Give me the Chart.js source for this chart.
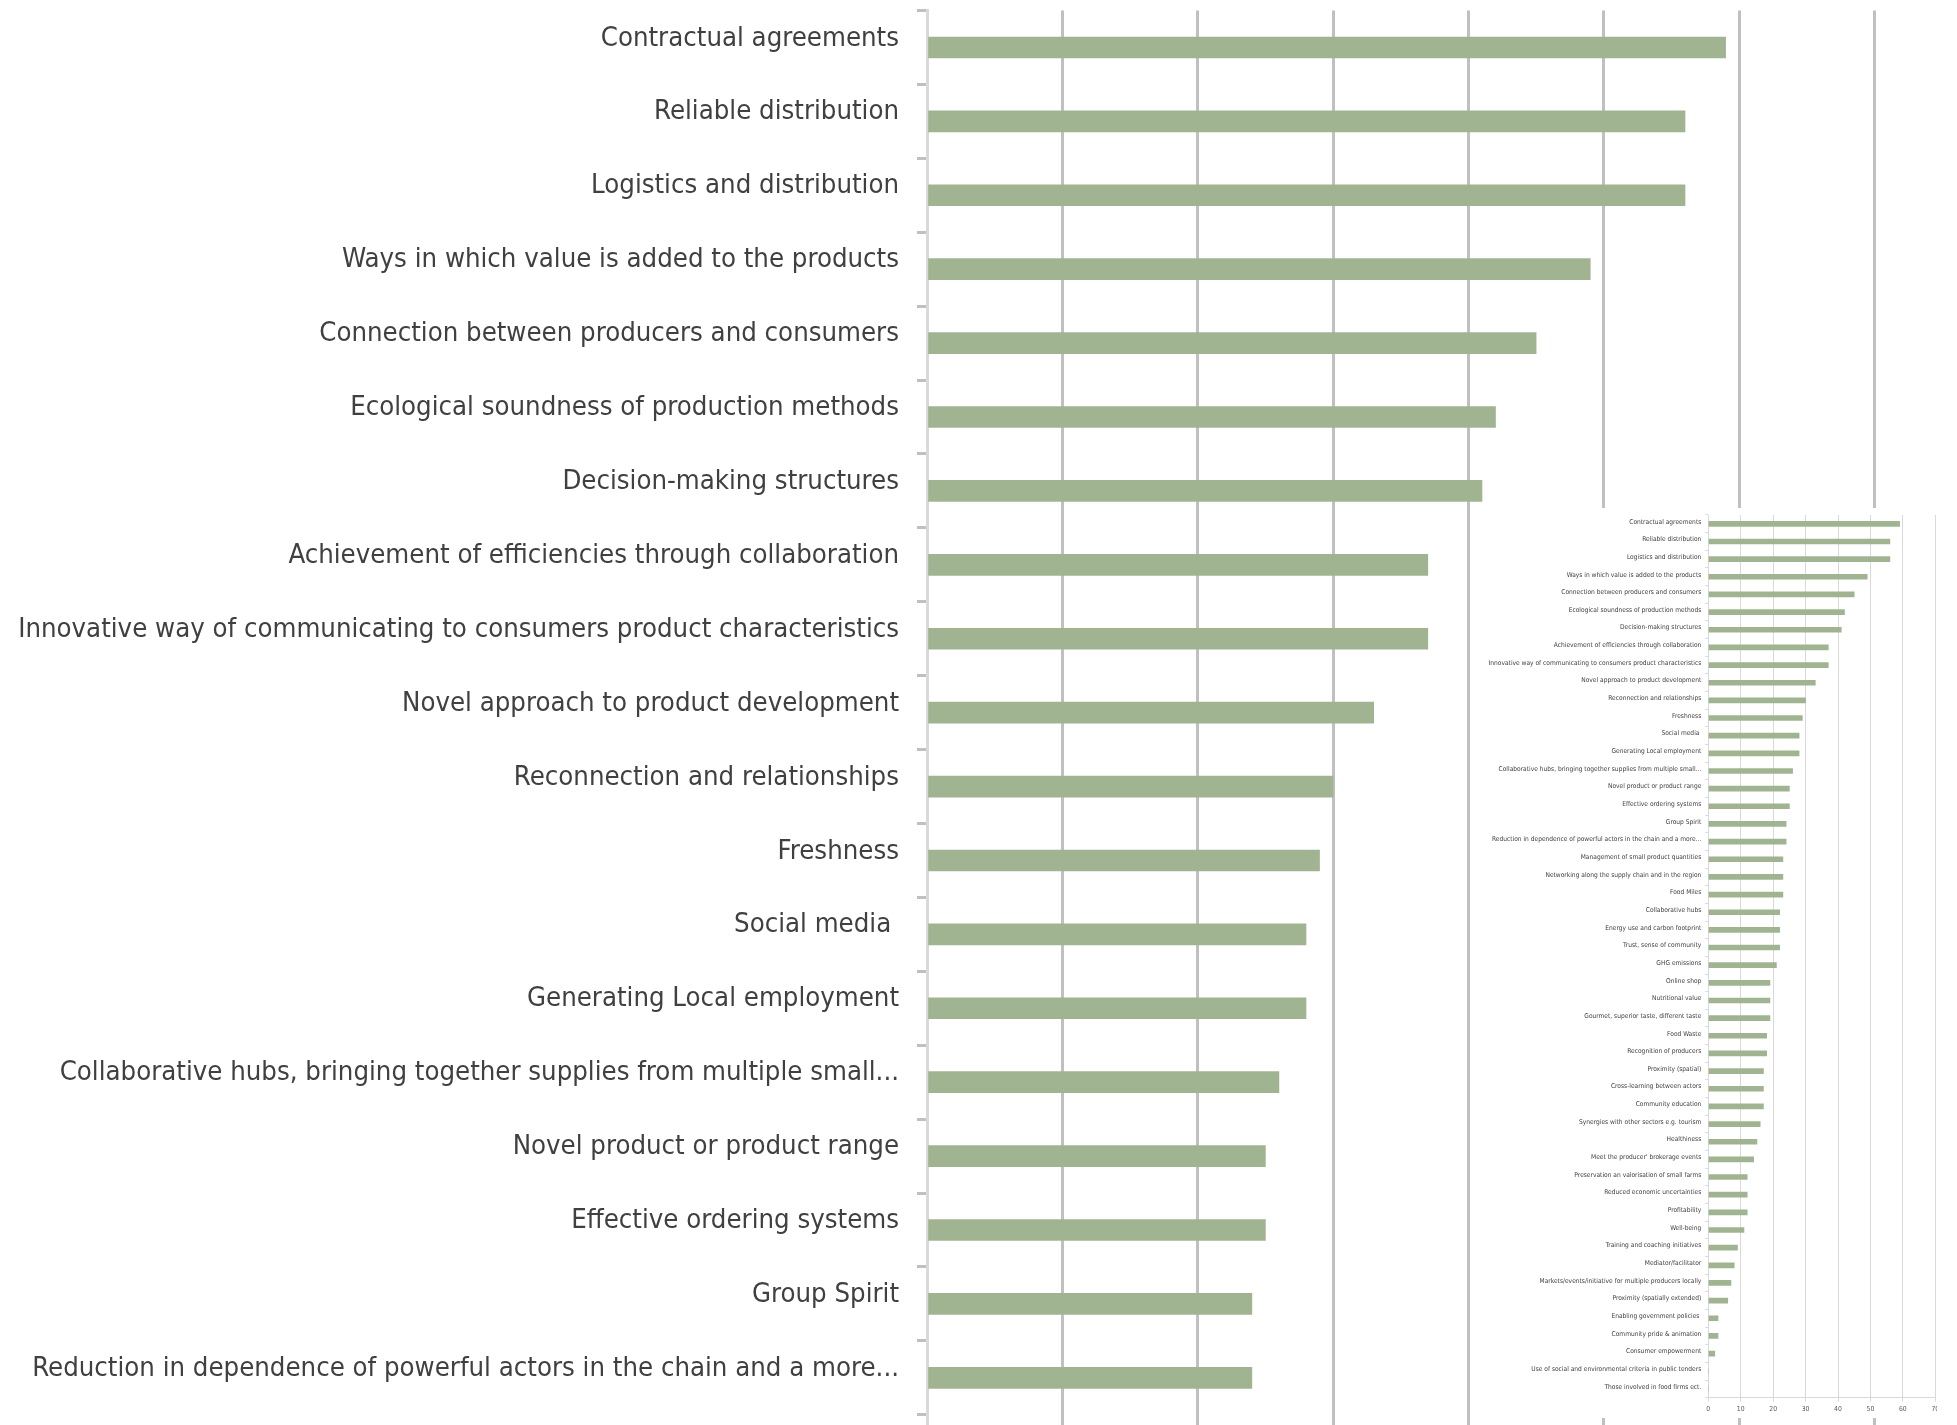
<!DOCTYPE html>
<html>
<head>
<meta charset="utf-8">
<script src="https://cdn.jsdelivr.net/npm/chart.js@4.4.1/dist/chart.umd.min.js"></script>
<style>
    html, body { margin: 0; padding: 0; background: #fff; overflow: hidden; width: 1957px; height: 1425px; }
    #big { position: absolute; left: 0; top: 0; width: 1957px; height: 3726px; }
    #inset { position: absolute; left: 1475px; top: 508px; width: 462px; height: 910px; overflow: hidden; background: #fff; }
    #insetInner { position: relative; width: 480px; height: 910px; }
</style>
</head>
<body>
<div id="big"><canvas id="bigChart"></canvas></div>
<div id="inset"><div id="insetInner"><canvas id="smallChart"></canvas></div></div>
<script>
const categories = [
    'Contractual agreements',
    'Reliable distribution',
    'Logistics and distribution',
    'Ways in which value is added to the products',
    'Connection between producers and consumers',
    'Ecological soundness of production methods',
    'Decision-making structures',
    'Achievement of efficiencies through collaboration',
    'Innovative way of communicating to consumers product characteristics',
    'Novel approach to product development',
    'Reconnection and relationships',
    'Freshness',
    'Social media ',
    'Generating Local employment',
    'Collaborative hubs, bringing together supplies from multiple small...',
    'Novel product or product range',
    'Effective ordering systems',
    'Group Spirit',
    'Reduction in dependence of powerful actors in the chain and a more...',
    'Management of small product quantities',
    'Networking along the supply chain and in the region',
    'Food Miles',
    'Collaborative hubs',
    'Energy use and carbon footprint',
    'Trust, sense of community',
    'GHG emissions',
    'Online shop',
    'Nutritional value',
    'Gourmet, superior taste, different taste',
    'Food Waste',
    'Recognition of producers',
    'Proximity (spatial)',
    'Cross-learning between actors',
    'Community education',
    'Synergies with other sectors e.g. tourism',
    'Healthiness',
    'Meet the producer\' brokerage events',
    'Preservation an valorisation of small farms',
    'Reduced economic uncertainties',
    'Profitability',
    'Well-being',
    'Training and coaching initiatives',
    'Mediator/facilitator',
    'Markets/events/initiative for multiple producers locally',
    'Proximity (spatially extended)',
    'Enabling government policies ',
    'Community pride & animation',
    'Consumer empowerment',
    'Use of social and environmental criteria in public tenders',
    'Those involved in food firms ect.'
];

const mentions = [
    59, 56, 56, 49, 45, 42, 41, 37, 37, 33,
    30, 29, 28, 28, 26, 25, 25, 24, 24, 23,
    23, 23, 22, 22, 22, 21, 19, 19, 19, 18,
    18, 17, 17, 17, 16, 15, 14, 12, 12, 12,
    11, 9, 8, 7, 6, 3, 3, 2, 0, 0
];

const axisMin = 0;
const axisMax = 70;
const axisStep = 10;

const barColor = '#a1b492';
const labelFont = "'Liberation Sans Narrow', 'DejaVu Sans Condensed', 'Open Sans', sans-serif";

// keep the category axis flush with the plot edges (no auto padding for the end labels)
const noEdgePadding = (scale) => {
    scale.paddingTop = 0;
    scale.paddingBottom = 0;
};

// large, cropped view of the top of the chart
new Chart(document.getElementById('bigChart'), {
    type: 'bar',
    data: {
        labels: categories,
        datasets: [{
            data: mentions,
            backgroundColor: barColor,
            borderWidth: 0,
            barThickness: 21
        }]
    },
    options: {
        indexAxis: 'y',
        responsive: true,
        maintainAspectRatio: false,
        animation: false,
        layout: { padding: { top: 10.5, right: 82.5, bottom: 0, left: 0 } },
        plugins: { legend: { display: false }, tooltip: { enabled: false } },
        scales: {
            x: {
                min: axisMin,
                max: axisMax,
                ticks: { stepSize: axisStep, display: false },
                grid: {
                    color: (ctx) => ctx.tick && ctx.tick.value === 0 ? '#d9d9d9' : '#c0c0c0',
                    lineWidth: 3,
                    drawTicks: false
                },
                border: { display: false },
                afterFit: (scale) => { scale.height = 20; scale.paddingLeft = 0; scale.paddingRight = 0; }
            },
            y: {
                ticks: {
                    color: '#404040',
                    font: { family: labelFont, size: 27.3 },
                    padding: 18,
                    labelOffset: -9,
                    autoSkip: false
                },
                grid: {
                    drawOnChartArea: false,
                    tickLength: 10,
                    color: '#c0c0c0',
                    lineWidth: 3
                },
                border: { color: '#d9d9d9', width: 3 },
                afterFit: (scale) => { scale.width = 927; noEdgePadding(scale); }
            }
        }
    }
});

// the full chart, as the small inset picture
new Chart(document.getElementById('smallChart'), {
    type: 'bar',
    data: {
        labels: categories,
        datasets: [{
            data: mentions,
            backgroundColor: barColor,
            borderWidth: 0,
            barThickness: 5
        }]
    },
    options: {
        indexAxis: 'y',
        responsive: true,
        maintainAspectRatio: false,
        animation: false,
        layout: { padding: { top: 7, right: 19.7, bottom: 0, left: 0 } },
        plugins: { legend: { display: false }, tooltip: { enabled: false } },
        scales: {
            x: {
                min: axisMin,
                max: axisMax,
                ticks: {
                    stepSize: axisStep,
                    color: '#595959',
                    font: { family: labelFont, size: 6.8 },
                    padding: 3
                },
                grid: { color: '#d9d9d9', lineWidth: 1, tickLength: 4 },
                border: { color: '#d9d9d9', width: 1 },
                afterFit: (scale) => { scale.height = 20.3; scale.paddingLeft = 0; scale.paddingRight = 0; }
            },
            y: {
                ticks: {
                    color: '#404040',
                    font: { family: labelFont, size: 6.6 },
                    padding: 4,
                    labelOffset: -2,
                    autoSkip: false
                },
                grid: { drawOnChartArea: false, tickLength: 3, color: '#d9d9d9' },
                border: { color: '#d9d9d9', width: 1 },
                afterFit: (scale) => { scale.width = 233.3; noEdgePadding(scale); }
            }
        }
    }
});
</script>
</body>
</html>
